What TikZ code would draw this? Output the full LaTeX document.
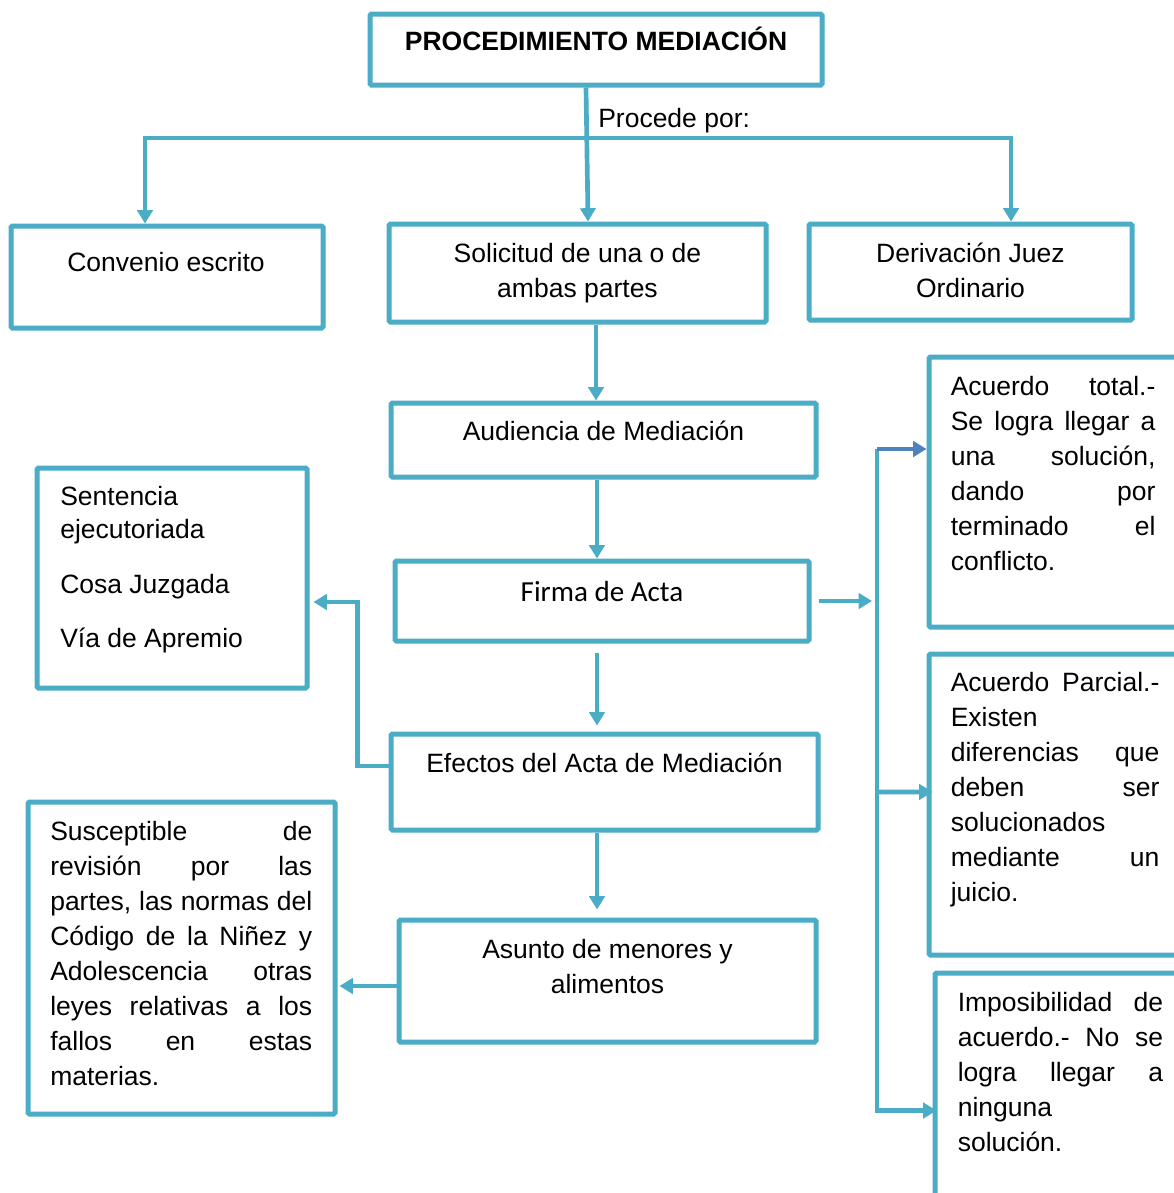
\documentclass[tikz,border=0pt]{standalone}
\usepackage{fontspec}
\setmainfont{Liberation Sans}
\newfontfamily\calibri{Carlito}
\usetikzlibrary{arrows.meta,fit}
\definecolor{acc}{HTML}{4BACC6}
\definecolor{accdark}{HTML}{4F81BD}
\newcommand{\jl}[2]{\makebox[#1][s]{#2}}
\newcommand{\fs}{\rule{0pt}{18pt}}
\begin{document}
\begin{tikzpicture}[x=0.75pt,y=-0.75pt,
  box/.style={draw=acc,line width=3.75pt,rounded corners=1pt,inner sep=0pt,fit={#1}},
  txt/.style={inner sep=0pt,text=black,font=\fontsize{19.875pt}{26.25pt}\selectfont},
  conn/.style={draw=acc,line width=3.5pt,-{Triangle[width=11.5pt,length=10pt]}},
  darkconn/.style={draw=accdark,line width=3.5pt,-{Triangle[width=11.5pt,length=10pt]}}]
\useasboundingbox (0,0) rectangle (1174,1193);
\clip (0,0) rectangle (1174,1193);
\fill[white] (0,0) rectangle (1174,1193);

% boxes
\node[box={(370,14) (822,85)}] (title) {};
\node[box={(11,226) (323,328)}] (conv) {};
\node[box={(389,224) (766,322)}] (sol) {};
\node[box={(809,224) (1132,320)}] (der) {};
\node[box={(391,403) (816,477)}] (aud) {};
\node[box={(395,561) (809,641)}] (firma) {};
\node[box={(391,734) (818,830)}] (efe) {};
\node[box={(399,920) (816,1042)}] (asu) {};
\node[box={(37,468) (307,688)}] (sen) {};
\node[box={(28,802) (335,1114)}] (sus) {};
\node[box={(929,357) (1190,627)}] (tot) {};
\node[box={(929,654) (1190,955)}] (par) {};
\node[box={(935,973) (1190,1215)}] (imp) {};

% texts
\node[txt,font=\fontsize{19.875pt}{26.25pt}\selectfont\bfseries,anchor=base] (ttitle) at (596,50) {PROCEDIMIENTO MEDIACIÓN};
\node[txt,anchor=base west] (tproc) at (598,127) {Procede por:};
\node[txt,anchor=base] (tconv) at (166,271) {Convenio escrito};
\node[txt,anchor=north,align=center] (tsol) at (577.5,238) {\fs Solicitud de una o de\\ambas partes};
\node[txt,anchor=north,align=center] (tder) at (970.5,238) {\fs Derivación Juez\\Ordinario};
\node[txt,anchor=base] (taud) at (603.5,440) {Audiencia de Mediación};
\node[txt,font=\calibri\fontsize{21.8pt}{26pt}\selectfont,anchor=base] (tfirma) at (602,601) {Firma de Acta};
\node[txt,anchor=base] (tefe) at (604.5,772) {Efectos del Acta de Mediación};
\node[txt,anchor=north,align=center] (tasu) at (607.5,934) {\fs Asunto de menores y\\alimentos};
\node[txt,font=\fontsize{19.875pt}{24.75pt}\selectfont,anchor=north west,align=left] (tsen) at (60,481)
  {\fs Sentencia\\ejecutoriada\\[16.5pt]Cosa Juzgada\\[16pt]Vía de Apremio};
\node[txt,anchor=north west,align=left] (tsus) at (50,816)
  {\fs\jl{196.5pt}{Susceptible de}\\
   \jl{196.5pt}{revisión por las}\\
   \jl{196.5pt}{partes, las normas del}\\
   \jl{196.5pt}{Código de la Niñez y}\\
   \jl{196.5pt}{Adolescencia otras}\\
   \jl{196.5pt}{leyes relativas a los}\\
   \jl{196.5pt}{fallos en estas}\\
   materias.};
\node[txt,anchor=north west,align=left] (ttot) at (950.5,371)
  {\fs\jl{153.5pt}{Acuerdo total.-}\\
   \jl{153.5pt}{Se logra llegar a}\\
   \jl{153.5pt}{una solución,}\\
   \jl{153.5pt}{dando por}\\
   \jl{153.5pt}{terminado el}\\
   conflicto.};
\node[txt,anchor=north west,align=left] (tpar) at (950.5,667)
  {\fs\jl{156.5pt}{Acuerdo Parcial.-}\\
   Existen\\
   \jl{156.5pt}{diferencias que}\\
   \jl{156.5pt}{deben ser}\\
   solucionados\\
   \jl{156.5pt}{mediante un}\\
   juicio.};
\node[txt,anchor=north west,align=left] (timp) at (957.5,987)
  {\fs\jl{154pt}{Imposibilidad de}\\
   \jl{154pt}{acuerdo.- No se}\\
   \jl{154pt}{logra llegar a}\\
   ninguna\\
   solución.};

% connectors
\coordinate (hub) at (586,138);
\draw[conn] ([xshift=-7.5pt]title.south) -- ([xshift=7.9pt]sol.north);
\draw[conn] (hub) -| ([xshift=-16.5pt]conv.north);
\draw[conn] (hub) -| ([xshift=30.4pt]der.north);
\draw[conn] ([xshift=13.9pt]sol.south) -- ([xshift=13.9pt]sol.south |- aud.north);
\draw[conn] ([xshift=-4.9pt]aud.south) -- ([xshift=-4.9pt]aud.south |- firma.north);
\draw[conn,shorten <=6.75pt,shorten >=4.5pt] ([xshift=-3.75pt]firma.south) -- ([xshift=-3.75pt]firma.south |- efe.north);
\draw[conn,shorten >=6pt] ([xshift=-5.6pt]efe.south) -- ([xshift=-5.6pt]efe.south |- asu.north);
\draw[conn,shorten >=3pt] ([yshift=12pt]efe.west) -- ++(-31,0) |- ([yshift=-18pt]sen.east);
\draw[conn,shorten >=1.5pt] ([yshift=-3.75pt]asu.west) -- ([yshift=-3.75pt]asu.west -| sus.east);

\coordinate (busT) at (877,449);
\coordinate (busM) at (877,792);
\coordinate (busF) at (877,601);
\draw[conn,shorten <=5.25pt,shorten >=3.75pt] (firma.east) -- (busF);
\draw[conn,shorten >=-3pt] (busT) |- ([yshift=-12.4pt]imp.west);
\draw[conn,shorten >=-4.5pt] (busM) -- ([yshift=9.4pt]par.west);
\draw[darkconn] (busT) -- ([yshift=32.25pt]tot.west);
\end{tikzpicture}
\end{document}
